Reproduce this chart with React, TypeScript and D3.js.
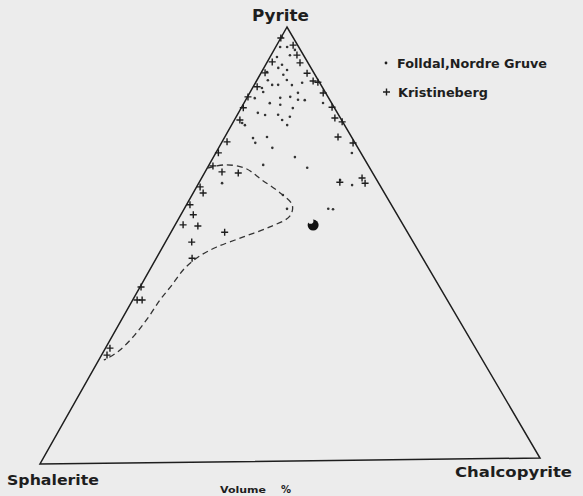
import React from 'react'
import * as d3 from 'd3'

// [pyrite %, chalcopyrite %] — sphalerite is the remainder
const folldal: [number, number][] = [
  [97.7, 0.1], [95.4, 0.9], [95.4, 2.3], [94.7, 4.2], [93.1, 1.4], [93.5, 3.8],
  [91.3, 3.3], [90.6, 2.9], [90.1, 4.9], [89.7, 1.1], [89.0, 4.7], [87.8, 2.2],
  [87.8, 6.0], [86.7, 3.6], [86.7, 4.8], [86.6, 7.6], [87.1, 9.4], [86.0, 1.9],
  [84.8, 9.7], [83.7, 6.7], [83.9, 8.6], [83.7, 1.6], [85.1, 2.6], [83.1, 11.9],
  [82.5, 5.2], [82.1, 7.5], [81.3, 10.4], [80.3, 3.9], [79.8, 5.6], [79.8, 8.2],
  [79.3, 10.8], [77.4, 11.2], [77.5, 2.7], [74.5, 5.8], [74.7, 8.5], [72.2, 10.8],
  [73.4, 6.8], [68.3, 10.9], [70.0, 16.4], [67.5, 20.1], [64.2, 4.7], [78.0, 1.9],
  [78.6, 9.6], [70.8, 27.4], [82.4, 15.9], [64.6, 28.1], [63.4, 31.1], [61.3, 18.3],
  [58.1, 20.7], [58.0, 29.0], [57.9, 30.0], [83.2, 10.5],
]

const kristineberg: [number, number][] = [
  [97.5, 0], [92.0, 1.0], [89.5, 0.8], [86.3, 0.8], [84.0, 0.1], [81.5, 0.4],
  [78.7, 1.1], [73.7, 1.0], [71.2, 0.5], [68.2, 0.9], [66.8, 3.4], [66.5, 6.8],
  [63.4, 0.7], [62.0, 2.0], [59.3, 0.7], [57.0, 2.5], [54.7, 1.6], [54.4, 4.7],
  [52.9, 10.8], [50.7, 5.3], [47.0, 7.2], [40.5, 0.2], [37.5, 0.9], [37.5, 1.9],
  [26.5, 0.9], [24.9, 1.1], [95.8, 3.3], [93.5, 5.2], [91.7, 6.7], [89.3, 9.3],
  [87.5, 11.4], [87.2, 12.5], [84.7, 14.8], [81.4, 18.2], [78.9, 20.0], [78.0, 21.9],
  [74.5, 22.8], [73.1, 26.5], [65.0, 32.3], [63.8, 33.5], [64.1, 28.3],
]

// dashed outline round the Kristineberg field
const contour: [number, number][] = [
  [67.7, 0], [68.4, 3.2], [67.6, 7.6], [64.8, 12.4], [61.8, 17.5], [59.0, 21.3],
  [56.4, 22.1], [54.0, 19.3], [51.7, 15.0], [49.5, 10.9], [47.5, 8.5], [44.8, 6.9],
  [40.9, 6.2], [37.5, 5.5], [33.3, 5.1], [29.5, 4.4], [26.0, 3.1], [24.2, 1.6], [23.8, 1.0],
]

const blob: [number, number] = [54.3, 27.8]

const corners = ['Pyrite', 'Sphalerite', 'Chalcopyrite']
const legendLabels = ['Folldal,Nordre Gruve', 'Kristineberg']
const unitLabel = ['Volume', '%']

const W = 583
const H = 496
const ink = '#1e1e1e'
const font = "'DejaVu Sans', sans-serif"

// triangle corners in pixels (the scan is slightly tilted)
const vSph = [40, 464]
const vChal = [540, 458]
const vPyr = [287, 27]

const frac = d3.scaleLinear().domain([0, 100]).range([0, 1])

function project(p: number, c: number): [number, number] {
  const a = frac(p)
  const b = frac(c)
  return [
    vSph[0] + b * (vChal[0] - vSph[0]) + a * (vPyr[0] - vSph[0]),
    vSph[1] + b * (vChal[1] - vSph[1]) + a * (vPyr[1] - vSph[1]),
  ]
}

export default function App() {
  const tri = [project(100, 0), project(0, 0), project(0, 100)]
  const triPath = d3.line()(tri) + 'Z'
  const dashed = d3
    .line<[number, number]>()
    .x((d) => project(d[0], d[1])[0])
    .y((d) => project(d[0], d[1])[1])
    .curve(d3.curveCatmullRom.alpha(0.5))(contour)
  const [bx, by] = project(blob[0], blob[1])

  return (
    <svg
      width={W}
      height={H}
      style={{ position: 'absolute', left: 0, top: 0, display: 'block' }}
    >
      <rect width={W} height={H} fill="#ececec" />
      <path d={triPath} fill="none" stroke={ink} strokeWidth={1.5} strokeLinejoin="miter" />
      <path d={dashed || ''} fill="none" stroke="#333" strokeWidth={1.3} strokeDasharray="6 4" />

      <g fill="#333">
        {folldal.map((d, i) => {
          const [x, y] = project(d[0], d[1])
          return <circle key={i} cx={x} cy={y} r={1.3} />
        })}
      </g>
      <g stroke={ink} strokeWidth={1.4}>
        {kristineberg.map((d, i) => {
          const [x, y] = project(d[0], d[1])
          return <path key={i} d="M-3.5,0H3.5M0,-3.5V3.5" transform={`translate(${x},${y})`} />
        })}
      </g>

      <g transform={`translate(${bx},${by})`}>
        <circle r={5.5} fill="#111" />
        <circle cx={-2.5} cy={-4} r={2.8} fill="#ececec" />
      </g>

      <g fill={ink} fontFamily={font} fontWeight="bold">
        <text x={252} y={21} fontSize={15} textLength={57} lengthAdjust="spacingAndGlyphs">
          {corners[0]}
        </text>
        <text x={7} y={485} fontSize={14} textLength={92} lengthAdjust="spacingAndGlyphs">
          {corners[1]}
        </text>
        <text x={455} y={477} fontSize={14} textLength={117} lengthAdjust="spacingAndGlyphs">
          {corners[2]}
        </text>
        <text x={220} y={493} fontSize={9} textLength={46} lengthAdjust="spacingAndGlyphs">
          {unitLabel[0]}
        </text>
        <text x={281} y={493} fontSize={10}>
          {unitLabel[1]}
        </text>

        <circle cx={386} cy={63} r={1.4} />
        <text x={397} y={68} fontSize={12} textLength={150} lengthAdjust="spacingAndGlyphs">
          {legendLabels[0]}
        </text>
        <path d="M383,92H390M386.5,88.5V95.5" stroke={ink} strokeWidth={1.4} />
        <text x={398} y={97} fontSize={12} textLength={90} lengthAdjust="spacingAndGlyphs">
          {legendLabels[1]}
        </text>
      </g>
    </svg>
  )
}
